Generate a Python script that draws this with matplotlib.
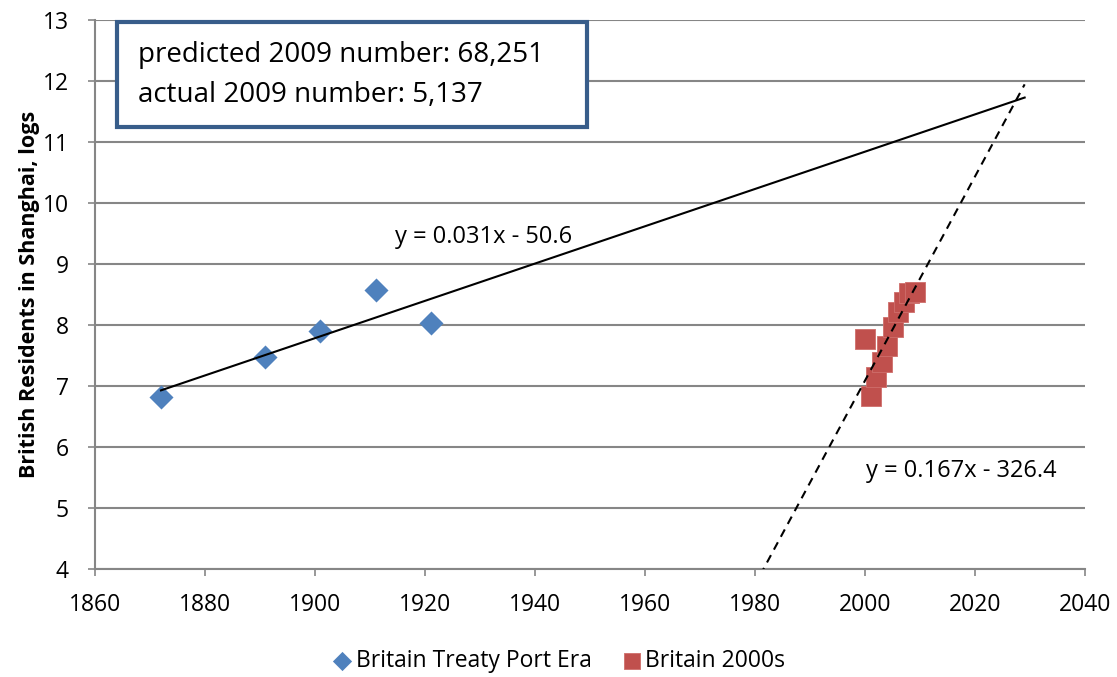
import numpy as np
import matplotlib
matplotlib.use("Agg")
import matplotlib.pyplot as plt
from matplotlib.patches import FancyBboxPatch

plt.rcParams['font.family'] = ['Open Sans', 'DejaVu Sans']

# Data
treaty_years = [1872, 1891, 1901, 1911, 1921]
treaty_logs = [6.82, 7.48, 7.90, 8.57, 8.03]
modern_years = [2000, 2001, 2002, 2003, 2004, 2005, 2006, 2007, 2008, 2009]
modern_logs = [7.77, 6.84, 7.15, 7.40, 7.66, 7.97, 8.22, 8.38, 8.52, 8.54]
series_names = ["Britain Treaty Port Era", "Britain 2000s"]
eq_labels = ["y = 0.031x - 50.6", "y = 0.167x - 326.4"]
box_lines = ["predicted 2009 number: 68,251", "actual 2009 number: 5,137"]
x_ticks = list(range(1860, 2041, 20))
y_ticks = list(range(4, 14))

blue = "#4F81BD"
red = "#C0504D"
grid = "#868686"

fig = plt.figure(figsize=(11.17, 6.77), dpi=100)
ax = fig.add_axes([0.085, 0.1595, 0.8865, 0.811])

# trendlines (least squares from data)
b1 = np.polyfit(treaty_years, treaty_logs, 1)
xs1 = np.array([treaty_years[0], 2029])
ax.plot(xs1, np.polyval(b1, xs1), color="black", lw=1.5, zorder=4)
b2 = np.polyfit(modern_years, modern_logs, 1)
xs2 = np.array([1970, 2029])
ax.plot(xs2, np.polyval(b2, xs2), color="black", lw=1.5, ls=(0, (4, 3)), zorder=4)

ax.scatter(treaty_years, treaty_logs, marker="D", s=150, color=blue, zorder=3,
           label=series_names[0], linewidths=0)
ax.scatter(modern_years, modern_logs, marker="s", s=215, color=red, zorder=3,
           label=series_names[1], edgecolors="#CF6E6B", linewidths=0.6)

ax.set_xlim(1860, 2040)
ax.set_ylim(4, 13)
ax.set_xticks(x_ticks)
ax.set_yticks(y_ticks)
ax.yaxis.grid(True, color=grid, lw=1.5)
ax.set_axisbelow(True)
for s in ["top", "right"]:
    ax.spines[s].set_visible(False)
for s in ["left", "bottom"]:
    ax.spines[s].set_color(grid)
    ax.spines[s].set_linewidth(1.5)
ax.tick_params(axis="both", colors=grid, labelcolor="black", labelsize=16.5,
               length=5, width=1.2)
ax.tick_params(axis="x", pad=12)
ax.tick_params(axis="y", pad=14)
ax.set_ylabel("British Residents in Shanghai, logs", fontsize=15.5, fontweight="bold",
              labelpad=2)

ax.text(1914.5, 9.44, eq_labels[0], fontsize=17, ha="left", va="center")
ax.text(2000.2, 5.6, eq_labels[1], fontsize=17, ha="left", va="center")

# annotation box
bx = FancyBboxPatch((117 / 1117, 1 - 127 / 677), 470 / 1117, 105 / 677,
                    boxstyle="square,pad=0", transform=fig.transFigure,
                    facecolor="white", edgecolor="#385D8A", lw=3, zorder=10)
fig.patches.append(bx)
fig.text(138 / 1117, 1 - 55 / 677, box_lines[0], fontsize=20, va="center", ha="left", zorder=11)
fig.text(138 / 1117, 1 - 95 / 677, box_lines[1], fontsize=20, va="center", ha="left", zorder=11)

fig.legend(loc="center", bbox_to_anchor=(0.5, 1 - 661 / 677), ncol=2, frameon=False,
           fontsize=16.5, handlelength=0.9, handletextpad=0.15, columnspacing=1.3,
           markerscale=0.8)

fig.savefig("out.png", dpi=100)
